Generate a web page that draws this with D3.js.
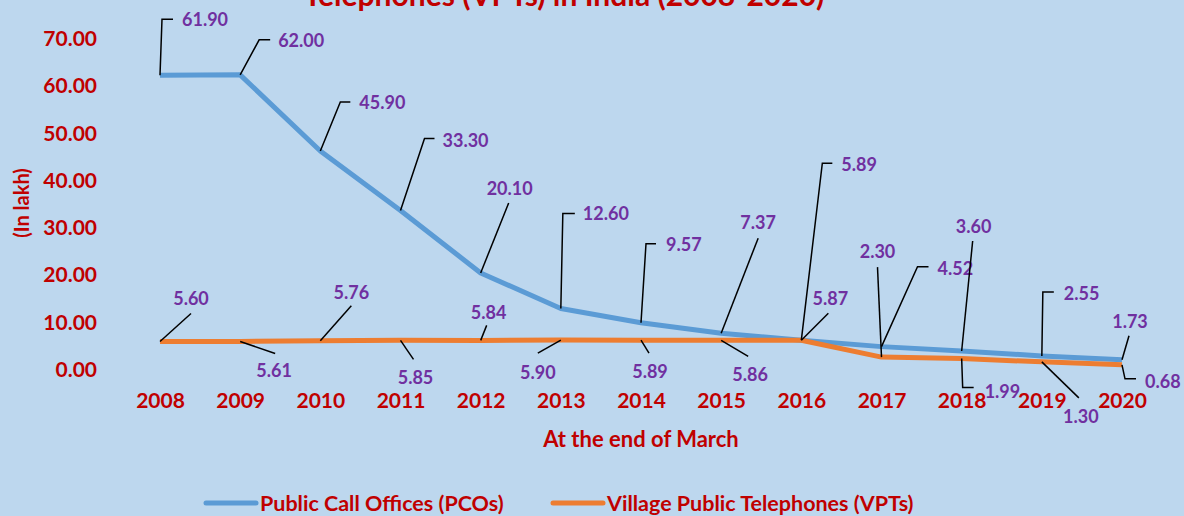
<!DOCTYPE html>
<html>
<head>
<meta charset="utf-8">
<script src="https://cdn.jsdelivr.net/npm/d3@7"></script>
<style>
  html, body { margin: 0; padding: 0; background: #bdd7ee; }
  svg { display: block; font-family: Lato, "Open Sans", sans-serif; font-weight: bold; }
</style>
</head>
<body>
<svg id="chart" width="1184" height="516"></svg>
<script>
(function() {
  'use strict';

  var years = ['2008', '2009', '2010', '2011', '2012', '2013', '2014',
               '2015', '2016', '2017', '2018', '2019', '2020'];
  var pcoValues = [61.90, 62.00, 45.90, 33.30, 20.10, 12.60, 9.57, 7.37, 5.89, 4.52, 3.60, 2.55, 1.73];
  var vptValues = [5.60, 5.61, 5.76, 5.85, 5.84, 5.90, 5.89, 5.86, 5.87, 2.30, 1.99, 1.30, 0.68];
  var yTicks = [0, 10, 20, 30, 40, 50, 60, 70];
  var seriesNames = ['Public Call Offices (PCOs)', 'Village Public Telephones (VPTs)'];

  // where each data label sits, relative to its point (leader bend points, then text)
  var pcoLabelPos = [
    {leader: [[2, -56], [13, -56]], text: [22, -56], anchor: 'start'},
    {leader: [[19, -35], [30, -35]], text: [38, -35], anchor: 'start'},
    {leader: [[20, -49], [30, -49]], text: [39, -49], anchor: 'start'},
    {leader: [[24, -72], [34, -72]], text: [42, -71], anchor: 'start'},
    {leader: [[28, -70]], text: [29, -85], anchor: 'middle'},
    {leader: [[2, -95], [14, -95]], text: [22, -95], anchor: 'start'},
    {leader: [[5, -79], [15, -79]], text: [25, -79], anchor: 'start'},
    {leader: [[37, -95]], text: [37, -111], anchor: 'middle'},
    {leader: [[21, -177], [31, -177]], text: [40, -176], anchor: 'start'},
    {leader: [[36, -80], [47, -80]], text: [56, -79], anchor: 'start'},
    {leader: [[11, -110]], text: [12, -125], anchor: 'middle'},
    {leader: [[1, -64], [12, -64]], text: [22, -63], anchor: 'start'},
    {leader: [[7, -24]], text: [8, -39], anchor: 'middle'}
  ];
  var vptLabelPos = [
    {leader: [[31, -28]], text: [31, -44], anchor: 'middle'},
    {leader: [[35, 12]], text: [34, 29], anchor: 'middle'},
    {leader: [[31, -35]], text: [31, -49], anchor: 'middle'},
    {leader: [[13, 19]], text: [15, 37], anchor: 'middle'},
    {leader: [[6, -15]], text: [8, -28], anchor: 'middle'},
    {leader: [[-23, 13]], text: [-23, 32], anchor: 'middle'},
    {leader: [[8, 13]], text: [9, 31], anchor: 'middle'},
    {leader: [[27, 16]], text: [29, 34], anchor: 'middle'},
    {leader: [[27, -27]], text: [29, -42], anchor: 'middle'},
    {leader: [[-4, -90]], text: [-4, -106], anchor: 'middle'},
    {leader: [[1, 29], [12, 29]], text: [23, 32], anchor: 'start'},
    {leader: [[37, 36]], text: [39, 54], anchor: 'middle'},
    {leader: [[3, 14], [14, 14]], text: [23, 16], anchor: 'start'}
  ];

  var red = '#c00000', purple = '#7030a0';
  var colors = ['#5b9bd5', '#ed7d31'];

  var svg = d3.select('#chart');

  var x = d3.scalePoint().domain(years).range([160, 1122]);
  var y = d3.scaleLinear().domain([0, 70]).range([368, 37]);

  // title (only the bottom of its last line shows in the frame)
  svg.append('text')
    .attr('x', 564).attr('y', 6)
    .attr('text-anchor', 'middle')
    .attr('fill', red)
    .style('font-size', '30px')
    .text('Telephones (VPTs) in India (2008-2020)');

  // y axis
  var yAxis = svg.append('g')
    .attr('transform', 'translate(100,0)')
    .call(d3.axisLeft(y).tickValues(yTicks).tickSize(0).tickPadding(3).tickFormat(d3.format('.2f')));
  yAxis.select('.domain').remove();
  yAxis.selectAll('text')
    .attr('dy', null)
    .attr('dominant-baseline', 'central')
    .attr('fill', red)
    .style('font-size', '21px');
  yAxis.attr('font-family', null).attr('font-size', null);

  // x axis
  var xAxis = svg.append('g')
    .attr('transform', 'translate(0,368)')
    .call(d3.axisBottom(x).tickSize(0));
  xAxis.select('.domain').remove();
  xAxis.selectAll('text')
    .attr('y', 31)
    .attr('dy', null)
    .attr('dominant-baseline', 'central')
    .attr('fill', red)
    .style('font-size', '21px');
  xAxis.attr('font-family', null).attr('font-size', null);

  svg.append('text')
    .attr('transform', 'translate(21,203) rotate(-90)')
    .attr('text-anchor', 'middle')
    .attr('dominant-baseline', 'central')
    .attr('fill', red)
    .style('font-size', '20px')
    .text('(In lakh)');

  svg.append('text')
    .attr('x', 641).attr('y', 438)
    .attr('text-anchor', 'middle')
    .attr('dominant-baseline', 'central')
    .attr('fill', red)
    .style('font-size', '22px')
    .text('At the end of March');

  var line = d3.line()
    .x(function(d, i) { return x(years[i]); })
    .y(function(d) { return y(d); });

  var series = [pcoValues, vptValues];
  var labelPos = [pcoLabelPos, vptLabelPos];

  svg.selectAll('path.series')
    .data(series)
    .enter().append('path')
    .attr('class', 'series')
    .attr('d', line)
    .attr('fill', 'none')
    .attr('stroke', function(d, i) { return colors[i]; })
    .attr('stroke-width', 5)
    .attr('stroke-linejoin', 'round');

  // data labels with leader lines
  series.forEach(function(values, s) {
    var g = svg.append('g');
    values.forEach(function(v, i) {
      var px = x(years[i]), py = y(v), pos = labelPos[s][i];
      var pts = [[px, py]].concat(pos.leader.map(function(p) { return [px + p[0], py + p[1]]; }));
      g.append('path')
        .attr('d', d3.line()(pts))
        .attr('fill', 'none')
        .attr('stroke', '#000')
        .attr('stroke-width', 1.5);
      g.append('text')
        .attr('x', px + pos.text[0])
        .attr('y', py + pos.text[1])
        .attr('text-anchor', pos.anchor)
        .attr('dominant-baseline', 'central')
        .attr('fill', purple)
        .style('font-size', '18px')
        .text(d3.format('.2f')(v));
    });
  });

  // legend
  var legendX = [206, 553];
  var legend = svg.selectAll('g.legend')
    .data(seriesNames)
    .enter().append('g')
    .attr('class', 'legend')
    .attr('transform', function(d, i) { return 'translate(' + legendX[i] + ',503)'; });
  legend.append('line')
    .attr('x1', 0).attr('x2', 50)
    .attr('stroke', function(d, i) { return colors[i]; })
    .attr('stroke-width', 5)
    .attr('stroke-linecap', 'round');
  legend.append('text')
    .attr('x', 54)
    .attr('dominant-baseline', 'central')
    .attr('fill', red)
    .style('font-size', '21.5px')
    .text(function(d) { return d; });
})();
</script>
</body>
</html>
